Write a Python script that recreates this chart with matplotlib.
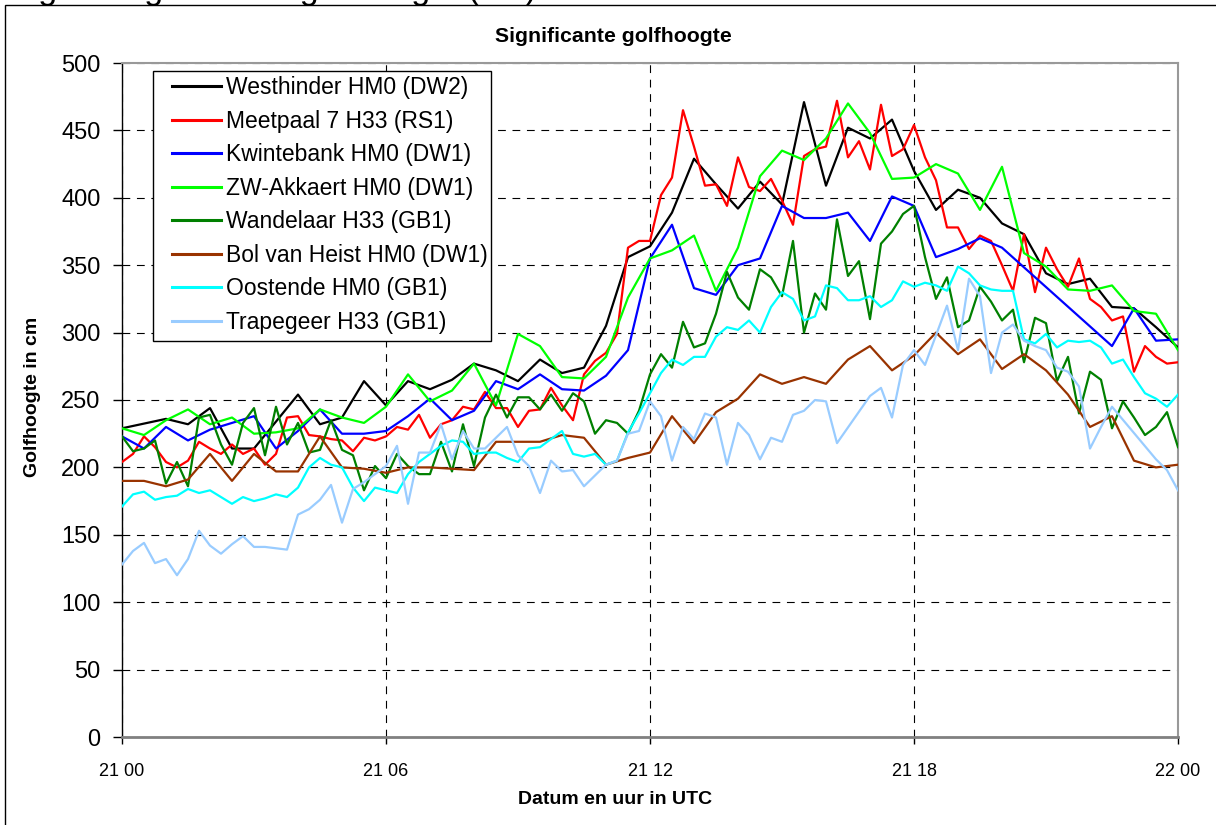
import matplotlib
matplotlib.use('Agg')
import matplotlib.pyplot as plt
from matplotlib.patches import Rectangle
import numpy as np

plt.rcParams['font.family'] = ['Liberation Sans', 'DejaVu Sans']

W, H = 1216, 825

# ── data (hours after 21 00 UTC, values in cm) ─────────────────────────────
quarter_hours = np.arange(0, 24.25, 0.25)
half_hours = np.arange(0, 24.5, 0.5)

westhinder_h = [0, 1, 1.5, 2, 2.5, 3, 4, 4.5, 5, 5.5, 6,
                6.5, 7, 7.5, 8, 8.5, 9, 9.5, 10, 10.5, 11, 11.5, 12,
                12.5, 13, 13.5, 14, 14.5, 15, 15.5, 16, 16.5, 17, 17.5, 18,
                18.5, 19, 19.5, 20, 20.5, 21, 21.5, 22, 22.5, 23, 23.5, 24]
westhinder = [229, 236, 232, 244, 214, 214, 254, 232, 237, 264, 246,
              264, 258, 265, 277, 272, 264, 280, 270, 274, 305, 356, 364,
              389, 429, 410, 392, 412, 395, 471, 409, 452, 444, 458, 420,
              391, 406, 400, 381, 373, 344, 336, 340, 319, 318, 304, 289]

meetpaal7 = [204, 210, 223, 215, 204, 200, 205, 219, 214, 210, 217, 210, 214,
             202, 210, 237, 238, 224, 223, 221, 220, 212, 222, 220, 223,
             230, 228, 239, 222, 232, 235, 245, 243, 256, 244, 244, 230,
             242, 243, 259, 246, 235, 269, 279, 285, 299, 363, 368, 368,
             402, 415, 465, 438, 409, 410, 394, 430, 408, 405, 414, 398,
             380, 431, 436, 438, 472, 430, 442, 421, 469, 431, 436, 454,
             430, 413, 378, 378, 362, 372, 368, 350, 331, 373, 330, 363,
             347, 334, 355, 325, 319, 309, 312, 271, 290, 282, 277, 278]

kwintebank_h = [0, 0.5, 1, 1.5, 2, 2.5, 3, 3.5, 4, 4.5, 5, 5.5, 6,
                6.5, 7, 7.5, 8, 8.5, 9, 9.5, 10, 10.5, 11, 11.5, 12,
                12.5, 13, 13.5, 14, 14.5, 15, 15.5, 16, 16.5, 17, 17.5, 18,
                18.5, 19, 19.5, 20, 22.5, 23, 23.5, 24]
kwintebank = [223, 214, 230, 220, 228, 233, 238, 214, 227, 243, 225, 225, 227,
              238, 251, 235, 242, 264, 258, 269, 258, 257, 268, 287, 355,
              380, 333, 328, 350, 355, 394, 385, 385, 389, 368, 401, 394,
              356, 362, 370, 363, 290, 318, 294, 295]

akkaert = [229, 224, 235, 243, 232, 237, 225, 226, 229, 243, 237, 233, 245,
           269, 249, 257, 277, 246, 299, 290, 267, 266, 282, 326, 355,
           361, 372, 331, 363, 416, 435, 428, 444, 470, 448, 414, 415,
           425, 418, 391, 423, 359, 349, 332, 331, 335, 316, 314, 287]

wandelaar = [223, 212, 214, 220, 188, 204, 186, 237, 239, 217, 202, 233, 244,
             209, 245, 217, 233, 211, 213, 235, 213, 209, 183, 201, 192,
             210, 201, 195, 195, 219, 197, 232, 201, 237, 254, 237, 252,
             252, 243, 254, 242, 255, 249, 225, 235, 233, 225, 242, 269,
             284, 274, 308, 289, 292, 314, 345, 326, 317, 347, 341, 327,
             368, 300, 329, 317, 384, 342, 353, 310, 366, 375, 388, 394,
             356, 325, 341, 304, 309, 334, 323, 309, 317, 278, 311, 307,
             264, 282, 240, 271, 265, 229, 249, 237, 224, 230, 241, 215]

bol_van_heist = [190, 190, 186, 191, 210, 190, 210, 197, 197, 223, 200, 199, 196,
                 200, 200, 199, 198, 219, 219, 219, 224, 222, 202, 207, 211,
                 238, 218, 241, 251, 269, 262, 267, 262, 280, 290, 272, 283,
                 300, 284, 295, 273, 284, 272, 254, 230, 238, 205, 200, 202]

oostende = [171, 180, 182, 176, 178, 179, 184, 181, 183, 178, 173, 178, 175,
            177, 180, 178, 185, 200, 207, 202, 200, 185, 175, 185, 183,
            181, 195, 204, 210, 216, 220, 219, 210, 211, 211, 207, 204,
            214, 215, 221, 227, 210, 208, 210, 202, 205, 226, 240, 255,
            270, 280, 276, 282, 282, 297, 304, 302, 309, 300, 319, 330,
            325, 309, 312, 335, 333, 324, 324, 327, 319, 324, 338, 334,
            337, 335, 331, 349, 344, 335, 332, 331, 331, 295, 292, 299,
            289, 294, 293, 294, 289, 277, 280, 267, 255, 251, 245, 254]

trapegeer_h = [0, 0.25, 0.5, 0.75, 1, 1.25, 1.5, 1.75, 2, 2.25, 2.5, 2.75, 3,
               3.25, 3.75, 4, 4.25, 4.5, 4.75, 5, 5.25, 5.5, 5.75, 6,
               6.25, 6.5, 6.75, 7, 7.25, 7.5, 7.75, 8, 8.25, 8.75, 9, 9.25,
               9.5, 9.75, 10, 10.25, 10.5, 11, 11.25, 11.5, 11.75, 12,
               12.25, 12.5, 12.75, 13, 13.25, 13.5, 13.75, 14, 14.25, 14.5,
               14.75, 15, 15.25, 15.5, 15.75, 16, 16.25, 17, 17.25, 17.5, 17.75, 18,
               18.25, 18.75, 19, 19.25, 19.5, 19.75, 20, 20.25, 20.5, 20.75,
               21, 21.25, 21.5, 21.75, 22, 22.25, 22.5, 23.5, 23.75, 24]
trapegeer = [128, 138, 144, 129, 132, 120, 132, 153, 142, 136, 143, 149, 141,
             141, 139, 165, 169, 176, 187, 159, 184, 189, 195, 201,
             216, 173, 211, 211, 232, 206, 227, 214, 214, 230, 209, 201,
             181, 205, 197, 198, 186, 202, 205, 225, 227, 249,
             238, 205, 230, 221, 240, 237, 202, 233, 224, 206,
             222, 219, 239, 242, 250, 249, 218, 253, 259, 237, 276, 287,
             276, 320, 287, 340, 327, 270, 300, 306, 294, 290,
             287, 274, 271, 260, 214, 230, 245, 206, 198, 183]

x_ticks = [0, 6, 12, 18, 24]
x_tick_labels = ['21 00', '21 06', '21 12', '21 18', '22 00']
y_ticks = list(range(0, 501, 50))

series = [
    ('Westhinder HM0 (DW2)', westhinder_h, westhinder, '#000000'),
    ('Meetpaal 7 H33 (RS1)', quarter_hours, meetpaal7, '#FF0000'),
    ('Kwintebank HM0 (DW1)', kwintebank_h, kwintebank, '#0000FF'),
    ('ZW-Akkaert HM0 (DW1)', half_hours, akkaert, '#00FF00'),
    ('Wandelaar H33 (GB1)', quarter_hours, wandelaar, '#008000'),
    ('Bol van Heist HM0 (DW1)', half_hours, bol_van_heist, '#993300'),
    ('Oostende HM0 (GB1)', quarter_hours, oostende, '#00FFFF'),
    ('Trapegeer H33 (GB1)', trapegeer_h, trapegeer, '#99CCFF'),
]

# ── figure ──────────────────────────────────────────────────────────────────
fig = plt.figure(figsize=(W / 100, H / 100), dpi=100, facecolor='white')
ax = fig.add_axes([122 / W, 1 - 737 / H, 1056 / W, 674 / H])

for label, xs, ys, col in series:
    ax.plot(xs, ys, color=col, lw=1.6, label=label, zorder=3)

ax.set_xlim(0, 24)
ax.set_ylim(0, 500)
ax.set_xticks(x_ticks)
ax.set_xticklabels(x_tick_labels)
ax.set_yticks(y_ticks)

ax.grid(True, color='black', lw=0.8, linestyle=(0, (7, 6)), zorder=1)
ax.tick_params(axis='y', direction='out', length=6.5, width=1, pad=9, labelsize=17)
ax.tick_params(axis='x', direction='out', length=5, width=1, pad=14, labelsize=13)

ax.spines['left'].set_color('black')
ax.spines['left'].set_linewidth(1.0)
ax.spines['bottom'].set_color('#808080')
ax.spines['bottom'].set_linewidth(2.0)
for s in ('top', 'right'):
    ax.spines[s].set_color('#999999')
    ax.spines[s].set_linewidth(1.5)

# legend without its own frame; the box is drawn separately below
leg = ax.legend(loc='upper left', bbox_to_anchor=(172 / W, 1 - 76 / H),
                bbox_transform=fig.transFigure, borderaxespad=0,
                fontsize=16.5, frameon=False,
                handlelength=2.14, handletextpad=0.23, labelspacing=0.46,
                borderpad=0)
leg.set_zorder(6)
for line in leg.get_lines():
    line.set_linewidth(2.2)
ax.add_patch(Rectangle((153 / W, 1 - 341 / H), (491 - 153) / W, (341 - 71) / H,
                       transform=fig.transFigure, facecolor='white',
                       edgecolor='black', lw=1.0, zorder=5))

fig.text(613 / W, 1 - 37 / H, 'Significante golfhoogte', ha='center', va='center',
         fontsize=15.3, fontweight='bold')
fig.text(33 / W, 1 - 397 / H, 'Golfhoogte in cm', ha='center', va='center',
         rotation=90, fontsize=14, fontweight='bold')
fig.text(615 / W, 1 - 799 / H, 'Datum en uur in UTC', ha='center', va='center',
         fontsize=14, fontweight='bold')

# caption cut off at the top edge of the picture
fig.text(10 / W, 1 + 1 / H, 'Fig. 2: Significante golfhoogte (cm)', ha='left',
         va='baseline', fontsize=24.5)

# outer chart frame
fig.patches.append(Rectangle((5 / W, -0.05), 1.1, 1.05 - 5 / H,
                             transform=fig.transFigure, fill=False,
                             ec='black', lw=1.0))

fig.savefig('out.png', dpi=100, facecolor='white')
